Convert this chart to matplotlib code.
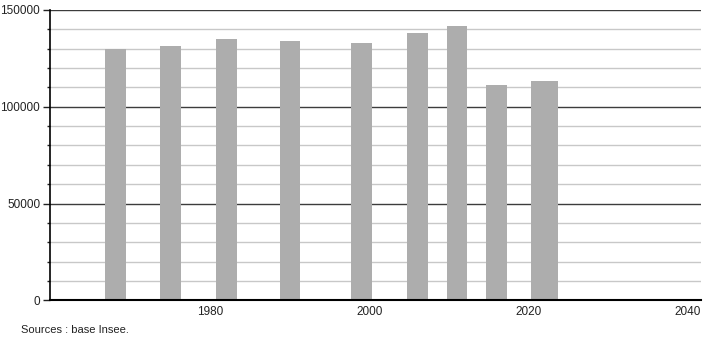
import matplotlib
matplotlib.use("Agg")
import matplotlib.pyplot as plt
from matplotlib.ticker import MultipleLocator

years = [1968, 1975, 1982, 1990, 1999, 2006, 2011, 2016, 2022]
population = [130000, 131500, 135100, 134100, 132700, 138200, 141800, 111000, 113200]
x_ticks = [1980, 2000, 2020, 2040]
y_ticks = [0, 50000, 100000, 150000]

plt.rcParams["font.family"] = ["Liberation Sans", "DejaVu Sans"]

fig = plt.figure(figsize=(7.1, 3.4), dpi=100)
ax = fig.add_axes([50 / 710, 1 - 300.3 / 340, 651 / 710, 290.3 / 340])

# last bar is drawn a little wider in the original
widths = [2.6] * (len(years) - 1) + [3.5]
ax.bar(years, population, width=widths, color="#adadad", zorder=3)

ax.set_xlim(1959.8, 2041.7)
ax.set_ylim(0, 150000)

ax.set_xticks(x_ticks)
ax.set_yticks(y_ticks)
ax.set_yticklabels([str(v) for v in y_ticks])
ax.yaxis.set_minor_locator(MultipleLocator(10000))

ax.grid(which="major", axis="y", color="#3c3c3c", linewidth=1.0, zorder=1)
ax.grid(which="minor", axis="y", color="#c8c8c8", linewidth=1.0, zorder=1)

ax.tick_params(axis="x", length=0, pad=4, labelsize=8.5, colors="#222222")
ax.tick_params(axis="y", which="major", length=5, width=1, pad=2,
               labelsize=8.5, colors="#222222")
ax.tick_params(axis="y", which="minor", length=2.5, width=1, color="#222222")

for side in ["top", "right"]:
    ax.spines[side].set_visible(False)
ax.spines["left"].set_linewidth(1.2)
ax.spines["bottom"].set_linewidth(1.5)
ax.spines["left"].set_zorder(4)
ax.spines["bottom"].set_zorder(4)

fig.text(20.7 / 710, 1 - 330 / 340, "Sources : base Insee.", fontsize=8,
         color="#222222", ha="left", va="center")

fig.savefig("out.png", dpi=100)
